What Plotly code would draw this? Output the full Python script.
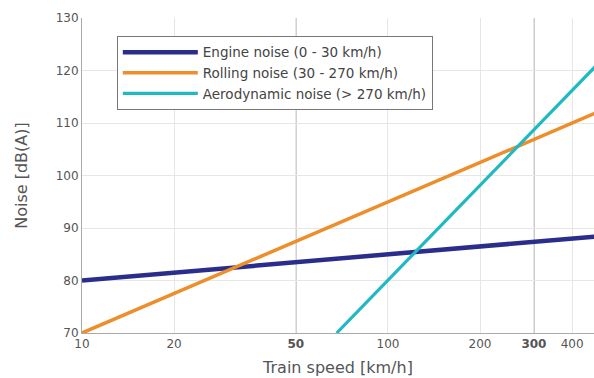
import plotly.graph_objects as go

# Data (speed in km/h, noise in dB(A))
engine_speed = [10, 480]
engine_noise = [80.0, 88.4]
rolling_speed = [10, 480]
rolling_noise = [70.0, 112.0]
aero_speed = [68, 480]
aero_noise = [70.0, 121.0]

x_tickvals = [10, 20, 50, 100, 200, 300, 400]
x_ticktext = ["10", "20", "<b>50</b>", "100", "200", "<b>300</b>", "400"]
emphasis_x = [50, 300]
y_tickvals = [70, 80, 90, 100, 110, 120, 130]

names = ["Engine noise (0 - 30 km/h)",
         "Rolling noise (30 - 270 km/h)",
         "Aerodynamic noise (> 270 km/h)"]
colors = ["#2b2d8c", "#ee8e2b", "#20b8c3"]
widths = [4.5, 3.5, 3.2]

fig = go.Figure()
for xs, ys, n, c, w in zip([engine_speed, rolling_speed, aero_speed],
                           [engine_noise, rolling_noise, aero_noise],
                           names, colors, widths):
    fig.add_trace(go.Scatter(x=xs, y=ys, mode="lines", name=n,
                             line=dict(color=c, width=w), cliponaxis=True))

for xv in emphasis_x:
    fig.add_shape(type="line", xref="x", yref="paper", x0=xv, x1=xv, y0=0, y1=1,
                  line=dict(color="#9a9a9a", width=1.2), layer="below")

font = "DejaVu Sans"
fig.update_layout(
    width=594, height=378,
    margin=dict(l=82, r=0, t=18, b=45, autoexpand=False),
    paper_bgcolor="white", plot_bgcolor="white",
    font=dict(family=font, size=12, color="#555"),
    showlegend=True,
    legend=dict(x=0.068, y=0.943, xanchor="left", yanchor="top",
                bordercolor="#777", borderwidth=1, bgcolor="white",
                font=dict(family=font, size=13.5, color="#444"),
                itemwidth=75, tracegroupgap=0),
    xaxis=dict(type="log", range=[1, 2.6735],
               tickvals=x_tickvals, ticktext=x_ticktext,
               showgrid=True, gridcolor="#e6e6e6", gridwidth=1,
               showline=True, linecolor="#aaa", linewidth=1,
               ticks="", zeroline=False,
               title=dict(text="Train speed [km/h]", standoff=11,
                          font=dict(family=font, size=16, color="#555")),
               tickfont=dict(family=font, size=12, color="#555")),
    yaxis=dict(range=[70, 130.05], tickvals=y_tickvals,
               showgrid=True, gridcolor="#e6e6e6", gridwidth=1,
               showline=True, linecolor="#aaa", linewidth=1,
               ticks="", zeroline=False,
               title=dict(text="Noise [dB(A)]", standoff=24,
                          font=dict(family=font, size=16, color="#555")),
               tickfont=dict(family=font, size=12, color="#555")),
)

fig.write_html("out.html",
               config={"displayModeBar": False},
               post_script="document.body.style.margin='0';"
                           "document.body.style.overflow='hidden';")
